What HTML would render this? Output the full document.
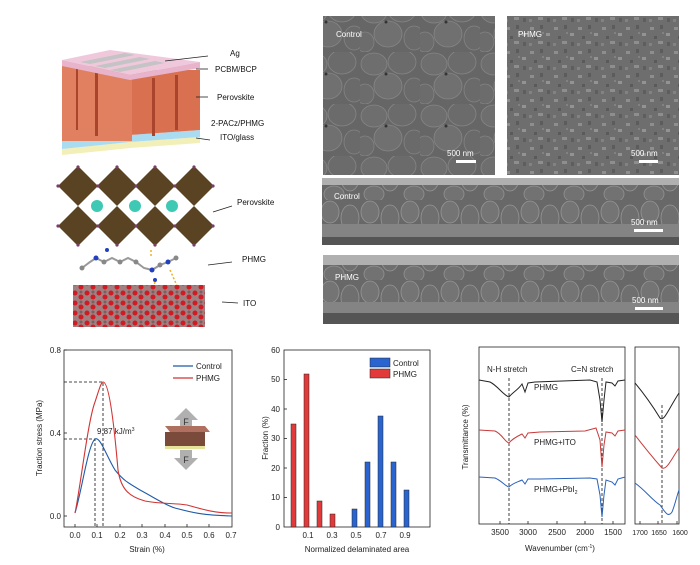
<!DOCTYPE html>
<html><head><meta charset="utf-8"><style>
html,body{margin:0;padding:0;background:#fff;}
svg{display:block;font-family:"Liberation Sans",Arial,sans-serif;}
</style></head><body>
<svg width="700" height="565" viewBox="0 0 700 565" xmlns="http://www.w3.org/2000/svg">
<defs>
<pattern id="pg" width="60" height="52" patternUnits="userSpaceOnUse">
<rect width="60" height="52" fill="#666"/>
<ellipse cx="14" cy="12" rx="13" ry="11" fill="#6e6e6e" stroke="#858585" stroke-width="0.8"/>
<ellipse cx="42" cy="10" rx="14" ry="12" fill="#6b6b6b" stroke="#858585" stroke-width="0.8"/>
<ellipse cx="28" cy="34" rx="14" ry="13" fill="#707070" stroke="#858585" stroke-width="0.8"/>
<ellipse cx="54" cy="38" rx="10" ry="12" fill="#6a6a6a" stroke="#838383" stroke-width="0.8"/>
<ellipse cx="5" cy="42" rx="9" ry="10" fill="#6c6c6c" stroke="#838383" stroke-width="0.8"/>
<circle cx="26" cy="22" r="1.5" fill="#333"/>
</pattern>
<pattern id="pn" width="24" height="24" patternUnits="userSpaceOnUse">
<rect width="24" height="24" fill="#6e6e6e"/>
<rect x="2" y="3" width="4" height="3" fill="#8e8e8e"/><rect x="12" y="1" width="3" height="4" fill="#5c5c5c"/>
<rect x="18" y="9" width="4" height="3" fill="#939393"/><rect x="6" y="12" width="3" height="3" fill="#5a5a5a"/>
<rect x="10" y="17" width="5" height="3" fill="#8e8e8e"/><rect x="1" y="19" width="3" height="3" fill="#828282"/>
<rect x="19" y="18" width="3" height="4" fill="#5e5e5e"/><rect x="14" y="8" width="2" height="2" fill="#828282"/>
</pattern>
<pattern id="pc" width="40" height="40" patternUnits="userSpaceOnUse">
<rect width="40" height="40" fill="#686868"/>
<ellipse cx="10" cy="12" rx="9" ry="11" fill="#747474" stroke="#959595" stroke-width="0.8"/>
<ellipse cx="30" cy="18" rx="9" ry="13" fill="#6f6f6f" stroke="#959595" stroke-width="0.8"/>
<ellipse cx="14" cy="34" rx="10" ry="8" fill="#727272" stroke="#929292" stroke-width="0.8"/>
</pattern>
<pattern id="pi" width="12" height="10" patternUnits="userSpaceOnUse">
<rect width="12" height="10" fill="#a08080"/>
<circle cx="3" cy="3" r="2.5" fill="#d01a24"/><circle cx="9" cy="7" r="2.5" fill="#d01a24"/><circle cx="9" cy="2" r="1.5" fill="#7a6060"/>
</pattern>
</defs>
<!-- device stack -->
<polygon points="62,155 130,148 200,143 200,137 130,142 62,149" fill="#f3efb8"/>
<polygon points="62,149 130,142 200,137 200,130 130,135 62,141" fill="#a9dcf0"/>
<polygon points="62,141 130,135 200,130 200,70 62,70" fill="#d9704f"/>
<rect x="62" y="66" width="70" height="75" fill="#e08060"/>
<rect x="76" y="68" width="2" height="62" fill="#a9452c"/>
<rect x="95" y="70" width="3" height="66" fill="#a9452c"/>
<rect x="152" y="78" width="3" height="58" fill="#a9452c"/>
<rect x="175" y="75" width="3" height="55" fill="#a9452c"/>
<polygon points="62,60 110,50 200,62 130,75" fill="#f0c8dc"/>
<polygon points="62,60 130,75 200,62 200,68 130,80 62,66" fill="#e8b4cc"/>
<polygon points="80,62 125,53 135,55 90,64" fill="#c4c4c4"/>
<polygon points="95,66 140,57 150,59 105,68" fill="#c4c4c4"/>
<polygon points="110,70 155,61 165,63 120,72" fill="#c4c4c4"/>
<g font-size="8" fill="#111">
<text x="230" y="56">Ag</text><line x1="165" y1="61" x2="208" y2="56" stroke="#222" stroke-width="0.8"/>
<text x="215" y="72">PCBM/BCP</text><line x1="196" y1="69" x2="208" y2="69" stroke="#222" stroke-width="0.8"/>
<text x="217" y="100">Perovskite</text><line x1="196" y1="97" x2="208" y2="97" stroke="#222" stroke-width="0.8"/>
<text x="211" y="126">2-PACz/PHMG</text>
<text x="220" y="140">ITO/glass</text><line x1="196" y1="138" x2="210" y2="140" stroke="#222" stroke-width="0.8"/>
<text x="237" y="205">Perovskite</text><line x1="213" y1="212" x2="232" y2="206" stroke="#222" stroke-width="0.8"/>
<text x="242" y="262">PHMG</text><line x1="208" y1="265" x2="232" y2="262" stroke="#222" stroke-width="0.8"/>
<text x="243" y="306">ITO</text><line x1="222" y1="302" x2="238" y2="303" stroke="#222" stroke-width="0.8"/>
</g>
<!-- perovskite octahedra -->
<g fill="#5a4322">
<polygon points="78,166 98,186 78,206 58,186"/><polygon points="117,166 137,186 117,206 97,186"/><polygon points="155,166 175,186 155,206 135,186"/><polygon points="194,166 214,186 194,206 174,186"/>
<polygon points="78,206 98,226 78,246 58,226"/><polygon points="117,206 137,226 117,246 97,226"/><polygon points="155,206 175,226 155,246 135,226"/><polygon points="194,206 214,226 194,246 174,226"/>
</g>
<g fill="#7a3d6a">
<circle cx="78" cy="167" r="1.6"/><circle cx="117" cy="167" r="1.6"/><circle cx="155" cy="167" r="1.6"/><circle cx="194" cy="167" r="1.6"/>
<circle cx="58" cy="186" r="1.6"/><circle cx="98" cy="186" r="1.6"/><circle cx="136" cy="186" r="1.6"/><circle cx="175" cy="186" r="1.6"/><circle cx="213" cy="186" r="1.6"/>
<circle cx="58" cy="226" r="1.6"/><circle cx="98" cy="226" r="1.6"/><circle cx="136" cy="226" r="1.6"/><circle cx="175" cy="226" r="1.6"/><circle cx="213" cy="226" r="1.6"/>
<circle cx="78" cy="245" r="1.6"/><circle cx="117" cy="245" r="1.6"/><circle cx="155" cy="245" r="1.6"/><circle cx="194" cy="245" r="1.6"/>
</g>
<g fill="#3ec9b5"><circle cx="97" cy="206" r="6"/><circle cx="135" cy="206" r="6"/><circle cx="172" cy="206" r="6"/></g>
<!-- molecule -->
<polyline points="82,268 90,262 96,258 104,262 112,258 120,262 128,258 136,262 144,268 152,270 160,265 168,262 176,258" fill="none" stroke="#999" stroke-width="2"/>
<g fill="#888"><circle cx="82" cy="268" r="2.5"/><circle cx="104" cy="262" r="2.5"/><circle cx="120" cy="262" r="2.5"/><circle cx="136" cy="262" r="2.5"/><circle cx="160" cy="265" r="2.5"/><circle cx="176" cy="258" r="2.5"/></g>
<g fill="#2040c0"><circle cx="96" cy="258" r="2.5"/><circle cx="107" cy="250" r="2"/><circle cx="152" cy="270" r="2.5"/><circle cx="168" cy="262" r="2.5"/><circle cx="155" cy="280" r="2"/></g>
<g stroke="#f0b020" stroke-width="1.5" stroke-dasharray="2,2"><line x1="151" y1="250" x2="151" y2="258"/><line x1="170" y1="270" x2="178" y2="288"/><line x1="155" y1="282" x2="152" y2="292"/></g>
<rect x="73" y="285" width="132" height="42" fill="url(#pi)"/>
<!-- SEM -->
<rect x="323" y="16" width="172" height="159" fill="url(#pg)"/>
<rect x="507" y="16" width="172" height="159" fill="url(#pn)"/>
<rect x="322" y="178" width="357" height="67" fill="url(#pc)"/>
<rect x="322" y="178" width="357" height="7" fill="#b0b0b0"/>
<rect x="322" y="224" width="357" height="13" fill="#848484"/><rect x="322" y="237" width="357" height="8" fill="#555"/>
<rect x="323" y="255" width="356" height="69" fill="url(#pc)"/>
<rect x="323" y="255" width="356" height="10" fill="#b0b0b0"/>
<rect x="323" y="302" width="356" height="11" fill="#848484"/><rect x="323" y="313" width="356" height="11" fill="#555"/>
<g fill="#fff" font-size="8">
<text x="336" y="37">Control</text><text x="518" y="37">PHMG</text>
<text x="447" y="156">500 nm</text><rect x="456" y="160" width="20" height="3"/>
<text x="631" y="156">500 nm</text><rect x="639" y="160" width="19" height="3"/>
<text x="334" y="199">Control</text><text x="631" y="225">500 nm</text><rect x="634" y="229" width="29" height="3"/>
<text x="335" y="280">PHMG</text><text x="632" y="303">500 nm</text><rect x="635" y="307" width="28" height="3"/>
</g>
<!-- Chart 1 -->
<g font-size="8" fill="#222">
<rect x="64" y="350" width="168" height="177" fill="none" stroke="#222" stroke-width="0.8"/>
<g stroke="#222" stroke-width="0.8">
<line x1="64" y1="350" x2="67" y2="350"/><line x1="64" y1="433" x2="67" y2="433"/><line x1="64" y1="516" x2="67" y2="516"/>
<line x1="75" y1="527" x2="75" y2="524"/><line x1="97" y1="527" x2="97" y2="524"/><line x1="120" y1="527" x2="120" y2="524"/><line x1="142" y1="527" x2="142" y2="524"/><line x1="165" y1="527" x2="165" y2="524"/><line x1="187" y1="527" x2="187" y2="524"/><line x1="209" y1="527" x2="209" y2="524"/>
</g>
<text x="61" y="353" text-anchor="end">0.8</text><text x="61" y="436" text-anchor="end">0.4</text><text x="61" y="519" text-anchor="end">0.0</text>
<text x="75" y="538" text-anchor="middle">0.0</text><text x="97" y="538" text-anchor="middle">0.1</text><text x="120" y="538" text-anchor="middle">0.2</text><text x="142" y="538" text-anchor="middle">0.3</text><text x="165" y="538" text-anchor="middle">0.4</text><text x="187" y="538" text-anchor="middle">0.5</text><text x="209" y="538" text-anchor="middle">0.6</text><text x="231" y="538" text-anchor="middle">0.7</text>
<text x="147" y="552" text-anchor="middle">Strain (%)</text>
<text transform="translate(42,438) rotate(-90)" text-anchor="middle">Traction stress (MPa)</text>
<g stroke="#111" stroke-dasharray="3,2" stroke-width="0.8" fill="none">
<polyline points="64,382 103,382 103,527"/><polyline points="64,439 95,439 95,527"/>
</g>
<path d="M75,513 C82,490 88,445 95,439 C100,436 106,455 115,470 C123,480 128,483 140,490 C155,498 165,505 175,508 C190,512 200,515 232,516" fill="none" stroke="#1f5aa8" stroke-width="1.1"/>
<path d="M75,513 C80,490 88,420 95,402 C99,390 101,382 103,382 C107,382 112,400 118,470 C121,490 130,497 145,501 C160,504 175,503 187,505 C205,510 215,513 232,513" fill="none" stroke="#d33333" stroke-width="1.1"/>
<line x1="173" y1="366" x2="193" y2="366" stroke="#1f5aa8" stroke-width="1.2"/><text x="196" y="369">Control</text>
<line x1="173" y1="378" x2="193" y2="378" stroke="#d33333" stroke-width="1.2"/><text x="196" y="381">PHMG</text>
<text x="97" y="434">9.87 kJ/m<tspan font-size="5" dy="-3">3</tspan></text>
<polygon points="186,408 174,420 180,420 180,428 192,428 192,420 198,420" fill="#b0b0b0"/>
<text x="186" y="425" text-anchor="middle" fill="#333" font-size="9">F</text>
<polygon points="165,426 205,426 210,432 170,432" fill="#b07060"/>
<rect x="165" y="432" width="40" height="14" fill="#7a4a3a"/>
<rect x="165" y="446" width="40" height="3" fill="#e6e39a"/>
<polygon points="180,450 192,450 192,458 198,458 186,470 174,458 180,458" fill="#b0b0b0"/>
<text x="186" y="463" text-anchor="middle" fill="#333" font-size="9">F</text>
</g>
<!-- Chart 2 -->
<g font-size="8" fill="#222">
<rect x="284" y="350" width="146" height="177" fill="none" stroke="#222" stroke-width="0.8"/>
<g stroke="#222" stroke-width="0.8">
<line x1="284" y1="379.5" x2="287" y2="379.5"/><line x1="284" y1="409" x2="287" y2="409"/><line x1="284" y1="438.5" x2="287" y2="438.5"/><line x1="284" y1="468" x2="287" y2="468"/><line x1="284" y1="497.5" x2="287" y2="497.5"/>
</g>
<text x="280" y="353" text-anchor="end">60</text><text x="280" y="382" text-anchor="end">50</text><text x="280" y="412" text-anchor="end">40</text><text x="280" y="441" text-anchor="end">30</text><text x="280" y="471" text-anchor="end">20</text><text x="280" y="500" text-anchor="end">10</text><text x="280" y="530" text-anchor="end">0</text>
<text x="308" y="538" text-anchor="middle">0.1</text><text x="332" y="538" text-anchor="middle">0.3</text><text x="356" y="538" text-anchor="middle">0.5</text><text x="381" y="538" text-anchor="middle">0.7</text><text x="405" y="538" text-anchor="middle">0.9</text>
<text x="357" y="552" text-anchor="middle">Normalized delaminated area</text>
<text transform="translate(268,438) rotate(-90)" text-anchor="middle">Fraction (%)</text>
<g stroke="#222" stroke-width="0.5">
<rect x="291" y="424" width="5" height="103" fill="#e23a3a"/>
<rect x="304" y="374" width="5" height="153" fill="#e23a3a"/>
<rect x="317" y="501" width="5" height="26" fill="#e23a3a"/>
<rect x="330" y="514" width="5" height="13" fill="#e23a3a"/>
<rect x="352" y="509" width="5" height="18" fill="#2a64d0"/>
<rect x="365" y="462" width="5" height="65" fill="#2a64d0"/>
<rect x="378" y="416" width="5" height="111" fill="#2a64d0"/>
<rect x="391" y="462" width="5" height="65" fill="#2a64d0"/>
<rect x="404" y="490" width="5" height="37" fill="#2a64d0"/>
<rect x="370" y="358" width="20" height="9" fill="#2a64d0"/>
<rect x="370" y="369" width="20" height="9" fill="#e23a3a"/>
</g>
<text x="393" y="366">Control</text><text x="393" y="377">PHMG</text>
</g>
<!-- Chart 3 -->
<g font-size="8" fill="#222">
<rect x="479" y="347" width="146" height="177" fill="none" stroke="#222" stroke-width="0.8"/>
<rect x="635" y="347" width="44" height="177" fill="none" stroke="#222" stroke-width="0.8"/>
<g stroke="#222" stroke-width="0.8">
<line x1="500" y1="524" x2="500" y2="521"/><line x1="528" y1="524" x2="528" y2="521"/><line x1="557" y1="524" x2="557" y2="521"/><line x1="585" y1="524" x2="585" y2="521"/><line x1="613" y1="524" x2="613" y2="521"/>
<line x1="640" y1="524" x2="640" y2="521"/><line x1="658" y1="524" x2="658" y2="521"/><line x1="677" y1="524" x2="677" y2="521"/>
</g>
<text x="500" y="535" text-anchor="middle">3500</text><text x="528" y="535" text-anchor="middle">3000</text><text x="557" y="535" text-anchor="middle">2500</text><text x="585" y="535" text-anchor="middle">2000</text><text x="613" y="535" text-anchor="middle">1500</text>
<g font-size="7"><text x="640" y="535" text-anchor="middle">1700</text><text x="659" y="535" text-anchor="middle">1650</text><text x="680" y="535" text-anchor="middle">1600</text></g>
<text x="560" y="551" text-anchor="middle">Wavenumber (cm<tspan font-size="5" dy="-3">-1</tspan><tspan dy="3">)</tspan></text>
<text transform="translate(468,437) rotate(-90)" text-anchor="middle">Transmittance (%)</text>
<text x="487" y="372">N-H stretch</text><text x="571" y="372">C=N stretch</text>
<text x="534" y="390">PHMG</text><text x="534" y="445">PHMG+ITO</text><text x="534" y="492">PHMG+PbI<tspan font-size="5" dy="2">2</tspan></text>
<g stroke="#111" stroke-dasharray="3,2" stroke-width="0.8"><line x1="509" y1="378" x2="509" y2="524"/><line x1="602" y1="378" x2="602" y2="524"/><line x1="662" y1="405" x2="662" y2="524"/></g>
<path d="M479,380 L490,382 C498,386 503,395 509,397 C513,392 518,390 522,384 L525,392 L528,383 L535,382 L590,380 L597,382 L600,400 L602,422 L604,400 L606,382 L612,383 L615,386 L618,381 L625,380" fill="none" stroke="#222" stroke-width="1"/>
<path d="M479,430 L495,431 C502,434 505,442 509,443 C513,438 518,436 522,434 L525,438 L528,433 L540,432 L585,431 L596,428 L600,440 L602,467 L604,445 L606,432 L612,433 L615,436 L618,431 L625,430" fill="none" stroke="#c83a3a" stroke-width="1"/>
<path d="M479,477 L495,478 C502,481 505,486 509,487 C513,483 518,482 522,480 L525,484 L528,479 L540,479 L590,478 L597,479 L600,495 L602,517 L604,495 L606,480 L612,482 L615,485 L618,479 L625,477" fill="none" stroke="#2a62b8" stroke-width="1"/>
<path d="M635,383 C645,395 652,405 660,418 C664,422 668,410 679,393" fill="none" stroke="#222" stroke-width="1"/>
<path d="M635,435 C645,448 655,460 662,468 C667,470 672,458 679,448" fill="none" stroke="#c83a3a" stroke-width="1"/>
<path d="M635,483 C645,490 652,500 660,505 C665,512 668,518 672,512 C675,505 677,495 679,490" fill="none" stroke="#2a62b8" stroke-width="1"/>
</g>
</svg>
</body></html>
